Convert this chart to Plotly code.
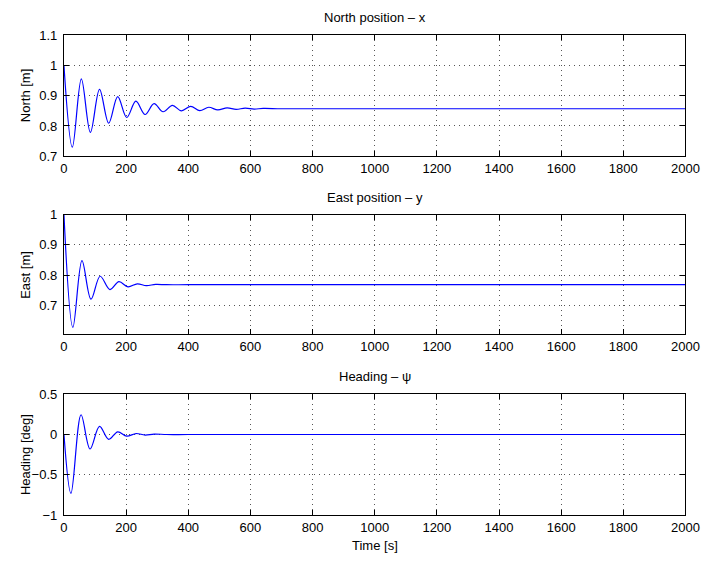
import plotly.graph_objects as go

# North position x [m]: start, successive peaks/troughs, then settled value
t_north = [0, 27, 56, 85, 114.5, 144, 173, 202, 231.5, 261, 290, 319, 349, 378,
           408, 437, 466, 495, 525, 554, 583, 612, 641, 700, 900, 1400, 2000]
north_m = [1.0, 0.73, 0.956, 0.779, 0.921, 0.809, 0.897, 0.828, 0.882, 0.838,
           0.874, 0.847, 0.868, 0.850, 0.865, 0.851, 0.862, 0.853, 0.860, 0.855,
           0.859, 0.856, 0.858, 0.857, 0.857, 0.857, 0.857]

# East position y [m]
t_east = [0, 28.7, 58, 87, 116.5, 148, 177, 206, 236, 265, 295, 330, 400, 800,
          1400, 2000]
east_m = [1.0, 0.627, 0.848, 0.720, 0.796, 0.752, 0.778, 0.761, 0.771, 0.765,
          0.769, 0.768, 0.768, 0.768, 0.768, 0.768]

# Heading psi [deg]
t_heading = [0, 22.5, 55, 84, 114.5, 144, 173, 202, 232, 261, 290, 330, 400,
             800, 1400, 2000]
heading_deg = [0.0, -0.73, 0.245, -0.18, 0.10, -0.06, 0.033, -0.02, 0.012,
               -0.007, 0.005, 0.0, 0.0, 0.0, 0.0, 0.0]

panel_titles = ["North position \u2013 x", "East position \u2013 y", "Heading \u2013 \u03c8"]
y_titles = ["North [m]", "East [m]", "Heading [deg]"]
x_title = "Time [s]"

W, H = 717, 566
x_left, x_right = 61.5, 699
# pixel extents (top, bottom) of each panel
panels = [(29, 153.3), (213.3, 336), (397.7, 522)]
y_ranges = [[0.7, 1.1], [0.6045, 1.0], [-1, 0.5]]
y_dticks = [0.1, 0.1, 0.5]

font = dict(family="Liberation Sans, Arial, Helvetica, sans-serif", size=13, color="black")

fig = go.Figure()
series = [(t_north, north_m), (t_east, east_m), (t_heading, heading_deg)]
for i, (t, v) in enumerate(series):
    sfx = "" if i == 0 else str(i + 1)
    fig.add_trace(go.Scatter(
        x=t, y=v, mode="lines", line=dict(color="#0000ff", width=1.2, shape="spline", smoothing=1.0),
        xaxis="x" + sfx, yaxis="y" + sfx, showlegend=False, hoverinfo="skip"))

axis_common = dict(
    showline=True, linecolor="black", linewidth=1.2, mirror="ticks",
    ticks="inside", ticklen=5, tickwidth=1, tickcolor="black",
    showgrid=True, gridcolor="#555555", gridwidth=1, griddash="1px,4px",
    zeroline=False, tickfont=font,
)

layout = dict(width=W, height=H, margin=dict(l=0, r=0, t=0, b=0),
              paper_bgcolor="white", plot_bgcolor="white", font=font)
annotations = []
xdom = [x_left / W, x_right / W]
for i, ((top, bot), yr, dt) in enumerate(zip(panels, y_ranges, y_dticks)):
    sfx = "" if i == 0 else str(i + 1)
    layout["xaxis" + sfx] = dict(axis_common, domain=xdom, range=[0, 2000], dtick=200,
                                 tick0=0, anchor="y" + sfx)
    layout["yaxis" + sfx] = dict(axis_common, domain=[1 - bot / H, 1 - top / H], range=yr,
                                 dtick=dt, tick0=0, anchor="x" + sfx, ticklabelstandoff=3)
    annotations.append(dict(text=panel_titles[i], x=(x_left + x_right) / 2 / W, xref="paper",
                            y=1 - (top - 18) / H, yref="paper", showarrow=False,
                            xanchor="center", yanchor="middle", font=font))
    annotations.append(dict(text=y_titles[i], x=22 / W, xref="paper",
                            y=1 - (top + bot) / 2 / H, yref="paper", showarrow=False,
                            textangle=-90, xanchor="center", yanchor="middle", font=font))
annotations.append(dict(text=x_title, x=(x_left + x_right) / 2 / W, xref="paper",
                        y=1 - 553 / H, yref="paper", showarrow=False,
                        xanchor="center", yanchor="middle", font=font))
layout["annotations"] = annotations
fig.update_layout(**layout)

fig.write_html("out.html")
